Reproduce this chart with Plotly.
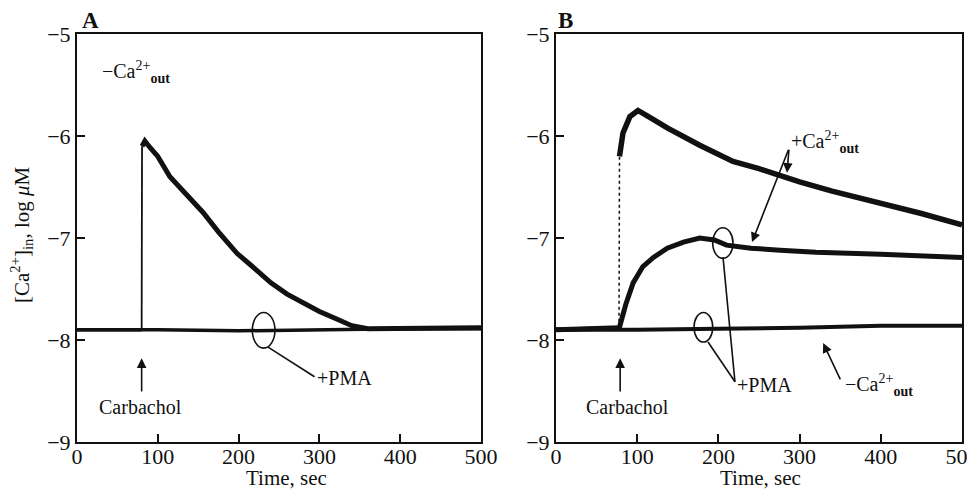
import plotly.graph_objects as go

# ---------------- data ----------------
# Panel A: -Ca2+out
a_ctrl_t = [0, 40, 80, 80.5, 84, 90, 100, 115, 135, 156, 175, 198, 220, 240, 260, 280, 300, 320, 340, 360, 400, 450, 500]
a_ctrl_y = [-7.90, -7.90, -7.90, -6.10, -6.05, -6.11, -6.20, -6.40, -6.57, -6.75, -6.94, -7.15, -7.30, -7.44, -7.55, -7.64, -7.72, -7.79, -7.86, -7.89, -7.89, -7.88, -7.88]
a_pma_t = [0, 100, 200, 300, 400, 500]
a_pma_y = [-7.90, -7.90, -7.91, -7.90, -7.89, -7.89]

# Panel B
b_ctrl_t = [0, 40, 77.6, 78.2, 82.5, 91, 101, 116, 137, 177, 218, 250, 272, 300, 340, 371, 400, 450, 500]
b_ctrl_y = [-7.90, -7.89, -7.88, -6.20, -5.97, -5.81, -5.75, -5.82, -5.92, -6.09, -6.25, -6.32, -6.38, -6.45, -6.54, -6.60, -6.66, -6.76, -6.87]
b_pma_t = [0, 40, 78, 86, 95, 107, 120, 137, 157, 177, 195, 210, 240, 276, 320, 400, 450, 500]
b_pma_y = [-7.90, -7.89, -7.88, -7.65, -7.44, -7.28, -7.19, -7.10, -7.04, -7.00, -7.02, -7.07, -7.10, -7.12, -7.14, -7.16, -7.17, -7.19]
b_noca_t = [0, 100, 200, 300, 400, 500]
b_noca_y = [-7.90, -7.90, -7.89, -7.88, -7.86, -7.86]

y_ticks = [-9, -8, -7, -6, -5]
y_ticklabels = ["\u22129", "\u22128", "\u22127", "\u22126", "\u22125"]
x_ticks = [0, 100, 200, 300, 400, 500]
x_ticklabels = ["0", "100", "200", "300", "400", "500"]

FONT = "Liberation Serif"
BLACK = "#111111"

# page body has an 8px margin; size the figure to fit the 975x500 window
OFF = 8
W, H = 975 - OFF, 500 - 2 * OFF
def px(xp):
    return (xp - OFF) / W
def py(yp):
    return 1 - (yp - OFF) / H

fig = go.Figure()

def add_line(t, y, xa, ya, width, dash="solid"):
    fig.add_trace(go.Scatter(x=t, y=y, mode="lines", xaxis=xa, yaxis=ya,
                             line=dict(color=BLACK, width=width, dash=dash),
                             showlegend=False, hoverinfo="skip"))

# Panel A traces
add_line(a_pma_t, a_pma_y, "x", "y", 3.5)
add_line(a_ctrl_t[:3], a_ctrl_y[:3], "x", "y", 3.5)
add_line(a_ctrl_t[2:4], a_ctrl_y[2:4], "x", "y", 1.8)
add_line(a_ctrl_t[3:], a_ctrl_y[3:], "x", "y", 5)

# Panel B traces
add_line(b_noca_t, b_noca_y, "x2", "y2", 4)
add_line(b_ctrl_t[:3], b_ctrl_y[:3], "x2", "y2", 4)
add_line(b_ctrl_t[2:4], b_ctrl_y[2:4], "x2", "y2", 1.5, "dot")
add_line(b_ctrl_t[3:], b_ctrl_y[3:], "x2", "y2", 5.5)
add_line(b_pma_t, b_pma_y, "x2", "y2", 5)

axis_common = dict(range=[0, 500], tickvals=x_ticks, ticktext=x_ticklabels,
                   showline=True, mirror=True, linecolor=BLACK, linewidth=2,
                   ticks="inside", ticklen=8, tickwidth=2, tickcolor=BLACK,
                   showgrid=False, zeroline=False, automargin=False,
                   ticklabeloverflow="allow", ticklabelstandoff=-6,
                   tickfont=dict(family=FONT, size=22, color=BLACK))
yaxis_common = dict(range=[-9, -5], tickvals=y_ticks, ticktext=y_ticklabels,
                    showline=True, mirror=True, linecolor=BLACK, linewidth=2,
                    ticks="inside", ticklen=8, tickwidth=2, tickcolor=BLACK,
                    showgrid=False, zeroline=False, automargin=False,
                    ticklabeloverflow="allow",
                    tickfont=dict(family=FONT, size=22, color=BLACK))

fig.update_layout(
    width=W, height=H,
    margin=dict(l=0, r=0, t=0, b=0, autoexpand=False),
    paper_bgcolor="white", plot_bgcolor="white",
    font=dict(family=FONT, color=BLACK),
    xaxis=dict(domain=[px(77), px(481)], anchor="y", **axis_common),
    yaxis=dict(domain=[py(442), py(34)], anchor="x", **yaxis_common),
    xaxis2=dict(domain=[px(556), px(962)], anchor="y2", **axis_common),
    yaxis2=dict(domain=[py(442), py(34)], anchor="x2", **yaxis_common),
)

ann = []
def text(x, y, s, xref, yref, size=20, xanchor="center", yanchor="middle", angle=0):
    ann.append(dict(x=x, y=y, xref=xref, yref=yref, text=s, showarrow=False,
                    xanchor=xanchor, yanchor=yanchor, textangle=angle,
                    font=dict(family=FONT, size=size, color=BLACK)))

def arrow(x, y, ax, ay, xref, yref, head=True):
    ann.append(dict(x=x, y=y, ax=ax, ay=ay, xref=xref, yref=yref, axref=xref, ayref=yref,
                    text="", showarrow=True, arrowhead=2 if head else 0, arrowsize=1.2,
                    arrowwidth=1.6, arrowcolor=BLACK, standoff=0, startstandoff=0))

# panel letters
text(px(90), py(20), "<b>A</b>", "paper", "paper", size=23)
text(px(565), py(20), "<b>B</b>", "paper", "paper", size=23)

# axis titles
text(px(286), py(478), "Time, sec", "paper", "paper", size=21)
text(px(760), py(478), "Time, sec", "paper", "paper", size=21)
text(px(21), py(235), "[Ca<sup>2+</sup>]<sub>in</sub>, log <i>\u03bc</i>M", "paper", "paper", size=21, angle=-90)

# Panel A annotations
text(28, -5.37, "\u2212Ca<sup>2+</sup><sub><b>out</b></sub>", "x", "y", xanchor="left")
arrow(80, -8.18, 80, -8.52, "x", "y")
text(78, -8.66, "Carbachol", "x", "y")
text(294, -8.37, "+PMA", "x", "y", xanchor="left")

# Panel B annotations
text(287, -6.06, "+Ca<sup>2+</sup><sub><b>out</b></sub>", "x2", "y2", xanchor="left")
arrow(284.5, -6.36, 287, -6.12, "x2", "y2")
arrow(241.4, -7.04, 287, -6.12, "x2", "y2")
arrow(79, -8.18, 79, -8.52, "x2", "y2")
text(88, -8.66, "Carbachol", "x2", "y2")
text(221, -8.44, "+PMA", "x2", "y2", xanchor="left")
text(353, -8.44, "\u2212Ca<sup>2+</sup><sub><b>out</b></sub>", "x2", "y2", xanchor="left")
arrow(329, -8.03, 351, -8.40, "x2", "y2")

fig.update_layout(annotations=ann)

# ellipses and pointer lines
shapes = [
    dict(type="circle", xref="x", yref="y", x0=217, x1=245, y0=-8.08, y1=-7.73,
         line=dict(color=BLACK, width=1.6)),
    dict(type="line", xref="x", yref="y", x0=236.4, y0=-8.07, x1=294, y1=-8.36,
         line=dict(color=BLACK, width=1.6)),
    dict(type="circle", xref="x2", yref="y2", x0=193, x1=218, y0=-7.20, y1=-6.90,
         line=dict(color=BLACK, width=1.6)),
    dict(type="circle", xref="x2", yref="y2", x0=170, x1=193, y0=-8.02, y1=-7.73,
         line=dict(color=BLACK, width=1.6)),
    dict(type="line", xref="x2", yref="y2", x0=187.2, y0=-8.02, x1=220.4, y1=-8.41,
         line=dict(color=BLACK, width=1.6)),
    dict(type="line", xref="x2", yref="y2", x0=205.7, y0=-7.19, x1=220.4, y1=-8.41,
         line=dict(color=BLACK, width=1.6)),
]
fig.update_layout(shapes=shapes)

fig.write_html("out.html")
